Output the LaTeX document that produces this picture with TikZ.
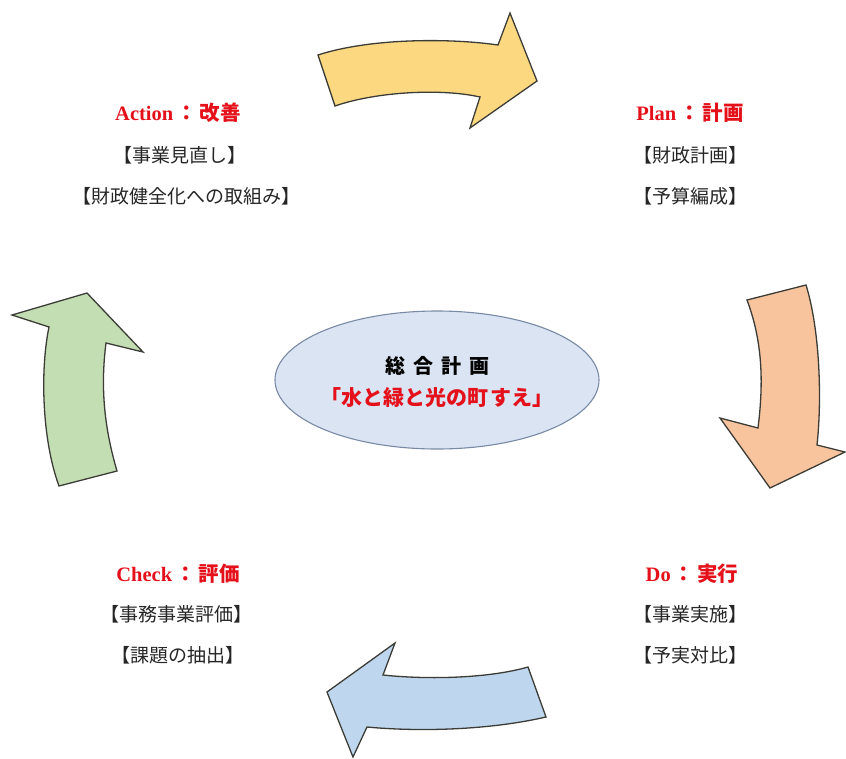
\documentclass[tikz,border=0pt]{standalone}
\usepackage{fontspec}
\usetikzlibrary{shapes.geometric}
\setmainfont{Liberation Serif}
\newfontfamily\jp{Noto Sans CJK JP}
\definecolor{redtxt}{RGB}{228,16,26}
\definecolor{yel}{RGB}{252,217,128}
\definecolor{ora}{RGB}{248,196,158}
\definecolor{blu}{RGB}{190,214,238}
\definecolor{gre}{RGB}{195,222,178}
\definecolor{edge}{RGB}{60,60,55}
\definecolor{ellfill}{RGB}{219,228,243}
\definecolor{elledge}{RGB}{120,138,165}
\newcommand{\hcol}{\hspace{3pt}{\jp ：}\hspace{3pt}}
\begin{document}
\begin{tikzpicture}[x=1pt,y=-1pt,
  arrowshape/.style={draw=edge,line width=1.3pt,line join=miter},
  head/.style={font=\fontsize{20.5}{22}\selectfont\bfseries,text=redtxt,inner sep=0pt},
  item/.style={font=\fontsize{19}{21}\selectfont\jp,text=black!85,inner sep=0pt},
  center/.style={font=\fontsize{21}{23}\selectfont\jp\bfseries,inner sep=0pt}]
\useasboundingbox (0,0) rectangle (846,758);
% arrows
\filldraw[arrowshape,fill=yel] (318,55) .. controls (370,38) and (450,38) .. (498,45) -- (510,13) -- (537,81) -- (470,128) -- (480,97) .. controls (440,88) and (375,92) .. (335,106) -- cycle;
\filldraw[arrowshape,fill=ora] (747,300) -- (806,285) .. controls (820,330) and (822,400) .. (817,445) -- (845,452) -- (770,488) -- (720,418) -- (758,428) .. controls (764,380) and (762,340) .. (747,300) -- cycle;
\filldraw[arrowshape,fill=blu] (528,667) -- (546,717) .. controls (490,730) and (420,732) .. (367,727) -- (353,757) -- (327,692) -- (395,643) -- (383,675) .. controls (430,680) and (490,678) .. (528,667) -- cycle;
\filldraw[arrowshape,fill=gre] (59,486) -- (117,471) .. controls (105,430) and (100,390) .. (106,343) -- (143,352) -- (87,293) -- (12,315) -- (49,327) .. controls (40,370) and (42,440) .. (59,486) -- cycle;
% central ellipse
\node[draw=elledge,fill=ellfill,line width=1.1pt,ellipse,minimum width=324pt,minimum height=138pt] (ell) at (437,380) {};
\node[center,text=black,font=\fontsize{20}{22}\selectfont\jp\bfseries] (c1) at (437,366) {総\hspace{8pt}合\hspace{8pt}計\hspace{8pt}画};
\node[center,text=redtxt] (c2) at (437,398) {「水と緑と光の町\hspace{2pt}すえ」};
% Action
\node[head] (a0) at (178,113) {Action\hcol{\jp 改善}};
\node[item] (a1) at (180,155) {【事業見直し】};
\node[item] (a2) at (186,196) {【財政健全化への取組み】};
% Plan
\node[head] (p0) at (690,113) {Plan\hcol{\jp 計画}};
\node[item] (p1) at (690,155) {【財政計画】};
\node[item] (p2) at (690,196) {【予算編成】};
% Check
\node[head] (k0) at (178,574) {Check\hcol{\jp 評価}};
\node[item] (k1) at (176,614) {【事務事業評価】};
\node[item] (k2) at (178,655) {【課題の抽出】};
% Do
\node[head] (d0) at (692,574) {Do\hcol{\jp 実行}};
\node[item] (d1) at (690,614) {【事業実施】};
\node[item] (d2) at (690,655) {【予実対比】};
\end{tikzpicture}
\end{document}
